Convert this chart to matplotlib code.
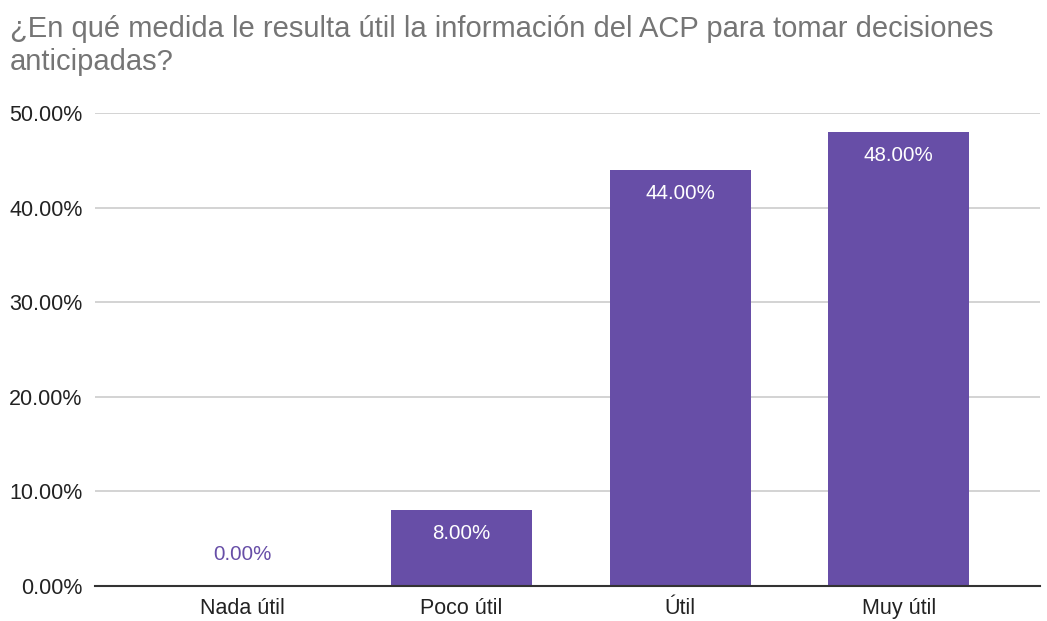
import matplotlib.pyplot as plt

categories = ['Nada útil', 'Poco útil', 'Útil', 'Muy útil']
values = [0.0, 8.0, 44.0, 48.0]
yticks = [0, 10, 20, 30, 40, 50]

bar_color = '#674ea7'
plt.rcParams['font.family'] = ['Liberation Sans', 'DejaVu Sans']

fig = plt.figure(figsize=(10.47, 6.21), dpi=100)
ax = fig.add_axes([0.0907, 0.0564, 0.9023, 0.7616])

x = list(range(len(categories)))
ax.bar(x, values, width=0.645, color=bar_color, zorder=3)

for xi, v in zip(x, values):
    if v > 3:
        ax.text(xi, v - 1.5, '{:.2f}%'.format(v), ha='center', va='top',
                color='white', fontsize=14.8, zorder=4)
    else:
        ax.text(xi, v + 2.3, '{:.2f}%'.format(v), ha='center', va='bottom',
                color=bar_color, fontsize=14.8, zorder=4)

ax.set_xlim(-0.676, 3.645)
ax.set_ylim(0, 50)
ax.set_yticks(yticks)
ax.set_yticklabels(['{:.2f}%'.format(t) for t in yticks])
ax.set_xticks(x)
ax.set_xticklabels(categories)
ax.tick_params(axis='both', length=0, labelsize=15.5, colors='#222222')
ax.tick_params(axis='x', pad=9)
ax.tick_params(axis='y', pad=9)
ax.grid(axis='y', color='#cccccc', linewidth=1.2, zorder=0)
for s in ['top', 'right', 'left']:
    ax.spines[s].set_visible(False)
ax.spines['bottom'].set_color('#333333')
ax.spines['bottom'].set_linewidth(1.5)
ax.spines['bottom'].set_zorder(5)

fig.text(0.0096, 0.976,
         '¿En qué medida le resulta útil la información del ACP para tomar decisiones\nanticipadas?',
         ha='left', va='top', fontsize=21, color='#757575', linespacing=1.25)

plt.savefig('out.png', dpi=100)
